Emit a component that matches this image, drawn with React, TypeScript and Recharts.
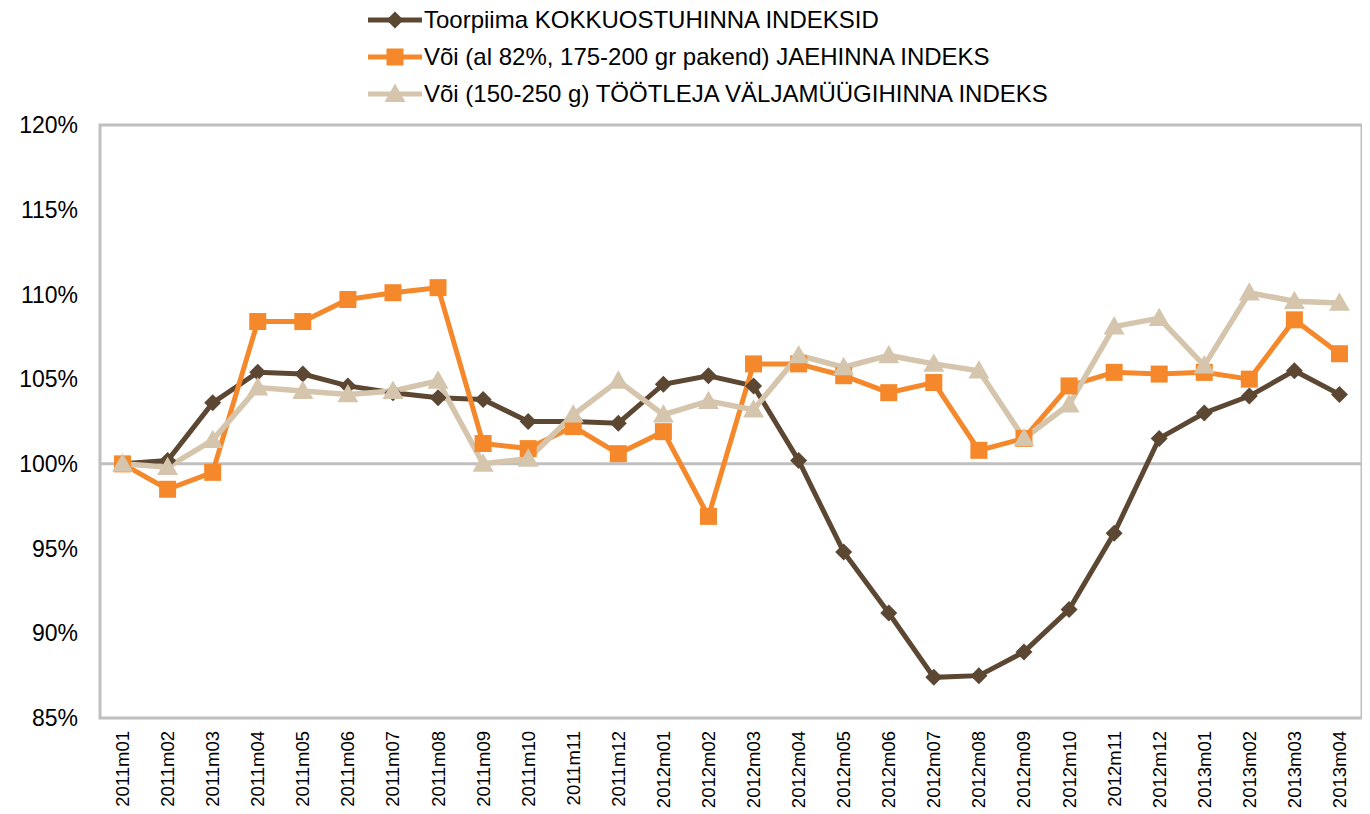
import React from 'react';
import { LineChart, Line, XAxis, YAxis, ReferenceLine, ReferenceArea } from 'recharts';

const months = [
  '2011m01', '2011m02', '2011m03', '2011m04', '2011m05', '2011m06', '2011m07',
  '2011m08', '2011m09', '2011m10', '2011m11', '2011m12', '2012m01', '2012m02',
  '2012m03', '2012m04', '2012m05', '2012m06', '2012m07', '2012m08', '2012m09',
  '2012m10', '2012m11', '2012m12', '2013m01', '2013m02', '2013m03', '2013m04',
];

const toorpiima = [
  100.0, 100.2, 103.6, 105.4, 105.3, 104.6, 104.2, 103.9, 103.8, 102.5, 102.5, 102.4,
  104.7, 105.2, 104.6, 100.2, 94.8, 91.2, 87.4, 87.5, 88.9, 91.4, 95.9, 101.5,
  103.0, 104.0, 105.5, 104.1,
];

const voiJae = [
  100.0, 98.5, 99.5, 108.4, 108.4, 109.7, 110.1, 110.4, 101.2, 100.9, 102.2, 100.6,
  101.9, 96.9, 105.9, 105.9, 105.2, 104.2, 104.8, 100.8, 101.5, 104.6, 105.4, 105.3,
  105.4, 105.0, 108.5, 106.5,
];

const voiTootleja = [
  100.0, 99.8, 101.4, 104.5, 104.3, 104.1, 104.3, 104.9, 100.0, 100.3, 102.9, 104.9,
  102.9, 103.7, 103.2, 106.4, 105.7, 106.4, 105.9, 105.5, 101.5, 103.5, 108.1, 108.6,
  105.8, 110.1, 109.6, 109.5,
];

const yTicks = [85, 90, 95, 100, 105, 110, 115, 120];

const names = [
  'Toorpiima KOKKUOSTUHINNA INDEKSID',
  'Või (al 82%, 175-200 gr pakend) JAEHINNA INDEKS',
  'Või (150-250 g) TÖÖTLEJA VÄLJAMÜÜGIHINNA INDEKS',
];

const BROWN = '#5C4733';
const ORANGE = '#F5882A';
const BEIGE = '#D5C5AD';
const GRID = '#BFBFBF';
const FONT = '"Liberation Sans", Arial, sans-serif';

const data = months.map((m, i) => ({
  month: m,
  toorpiima: toorpiima[i],
  voiJae: voiJae[i],
  voiTootleja: voiTootleja[i],
}));

const diamond = (cx: number, cy: number, color: string, r = 8.5) => (
  <polygon points={`${cx},${cy - r} ${cx + r},${cy} ${cx},${cy + r} ${cx - r},${cy}`} fill={color} />
);
const square = (cx: number, cy: number, color: string, r = 8.5) => (
  <rect x={cx - r} y={cy - r} width={r * 2} height={r * 2} fill={color} />
);
const triangle = (cx: number, cy: number, color: string, r = 10.5) => (
  <polygon points={`${cx},${cy - r} ${cx + r},${cy + r * 0.75} ${cx - r},${cy + r * 0.75}`} fill={color} />
);

const XTick = (props: any) => {
  const { x, y, payload } = props;
  return (
    <g transform={`translate(${x},${y + 13}) rotate(-90)`}>
      <text x={0} y={0} dy="0.35em" textAnchor="end" fontSize={18.5} fill="#000" fontFamily={FONT}>
        {payload.value}
      </text>
    </g>
  );
};

const legendItems = [
  { name: names[0], color: BROWN, marker: diamond },
  { name: names[1], color: ORANGE, marker: square },
  { name: names[2], color: BEIGE, marker: triangle },
];

const Legend = () => (
  <div style={{ position: 'absolute', left: 360, top: 0, fontFamily: FONT, fontSize: 24 }}>
    {legendItems.map((it, i) => (
      <div key={i} style={{ position: 'absolute', top: 12 + i * 37 - 14, left: 0, height: 28, display: 'flex', alignItems: 'center', whiteSpace: 'nowrap' }}>
        <svg width={56} height={28} style={{ display: 'block' }}>
          <line x1={0} y1={14} x2={54} y2={14} stroke={it.color} strokeWidth={5} />
          {it.marker(27, 14, it.color)}
        </svg>
        <span style={{ color: '#000' }}>{it.name}</span>
      </div>
    ))}
  </div>
);

export default function App() {
  return (
    <div style={{ position: 'relative', width: 1362, height: 806 }}>
      <LineChart width={1362} height={806} data={data} margin={{ top: 117, right: 8, left: 0, bottom: 0 }}>
        <ReferenceArea y1={85} y2={120} fill="none" stroke={GRID} strokeWidth={3} />
        <ReferenceLine y={100} stroke={GRID} strokeWidth={3} />
        <XAxis
          dataKey="month"
          height={96}
          scale="band"
          axisLine={false}
          tickLine={false}
          tickSize={0}
          tickMargin={0}
          interval={0}
          tick={<XTick />}
        />
        <YAxis
          width={92}
          domain={[85, 120]}
          ticks={yTicks}
          axisLine={false}
          tickLine={false}
          tickSize={0}
          tickMargin={22}
          tickFormatter={(v: number) => `${v}%`}
          tick={{ fontSize: 23, fill: '#000', fontFamily: FONT }}
        />
        <Line
          dataKey="toorpiima"
          stroke={BROWN}
          strokeWidth={5}
          isAnimationActive={false}
          dot={(p: any) => <g key={`d1-${p.index}`}>{diamond(p.cx, p.cy, BROWN)}</g>}
          activeDot={false}
        />
        <Line
          dataKey="voiJae"
          stroke={ORANGE}
          strokeWidth={5}
          isAnimationActive={false}
          dot={(p: any) => <g key={`d2-${p.index}`}>{square(p.cx, p.cy, ORANGE)}</g>}
          activeDot={false}
        />
        <Line
          dataKey="voiTootleja"
          stroke={BEIGE}
          strokeWidth={5.5}
          isAnimationActive={false}
          dot={(p: any) => <g key={`d3-${p.index}`}>{triangle(p.cx, p.cy, BEIGE)}</g>}
          activeDot={false}
        />
      </LineChart>
      <Legend />
    </div>
  );
}
